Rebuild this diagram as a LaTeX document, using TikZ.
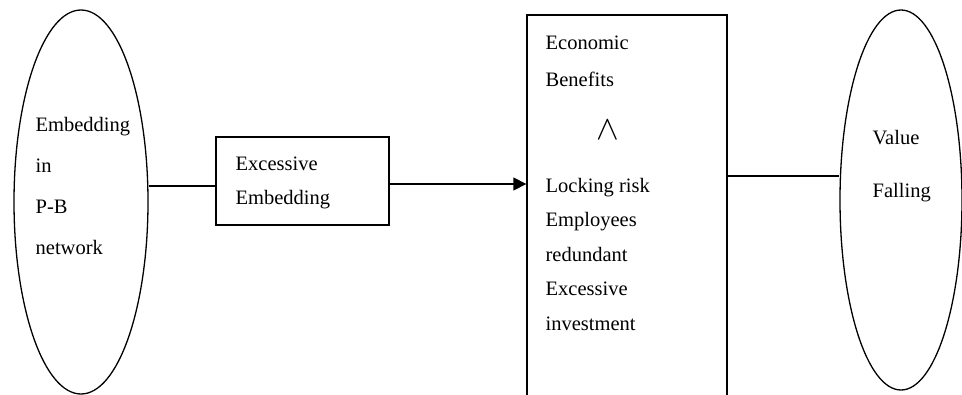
\documentclass[tikz,border=0pt]{standalone}
\usepackage{fontspec}
\setmainfont{Liberation Serif}
\usetikzlibrary{positioning, shapes.geometric, arrows.meta}

\begin{document}
\begin{tikzpicture}[x=1pt, y=-1pt, line width=1.3pt,
    txt/.style={align=left, anchor=west, inner sep=0pt}]
  \clip (0,0) rectangle (962,394);

  % ellipses at both ends
  \node[draw, ellipse, minimum width=134, minimum height=384] (net) at (81,202) {};
  \node[draw, ellipse, minimum width=122, minimum height=380] (fall) at (901,200) {};

  % boxes
  \node[draw, minimum width=173, minimum height=88] (exc) at (302.5,181) {};
  \node[draw, minimum width=200, minimum height=400] (eco) at (627,215) {};

  % texts
  \node[txt, font=\fontsize{20.5}{41}\selectfont] (nettxt) at (35,186) {Embedding\\in\\P-B\\network};
  \node[txt, font=\fontsize{20.5}{34}\selectfont] (exctxt) at (235,183) {Excessive\\Embedding};
  \node[txt, font=\fontsize{20.5}{37}\selectfont] (ecotop) at (545,61.5) {Economic\\Benefits};
  \node[inner sep=0pt] (wedge) at (608,130) {\scalebox{3.4}{$\wedge$}};
  \node[txt, font=\fontsize{20.5}{34.5}\selectfont] (ecobot) at (545,254) {Locking risk\\Employees\\redundant\\Excessive\\investment};
  \node[txt, font=\fontsize{20.5}{53}\selectfont] (falltxt) at (872,166.5) {Value\\Falling};

  % connectors
  \draw ([yshift=-5pt]exc.west -| net.east) -- ([yshift=-5pt]exc.west);
  \draw[-{Triangle[length=13pt,width=13pt]}] ([yshift=-3pt]exc.east) -- ([yshift=-3pt]exc.east -| eco.west);
  \draw ([yshift=24pt]fall.west -| eco.east) -- ([yshift=24pt]fall.west);
\end{tikzpicture}
\end{document}
